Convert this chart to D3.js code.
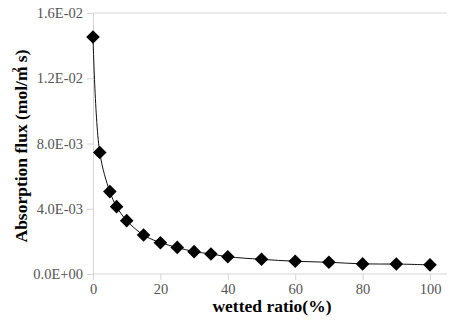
<!DOCTYPE html>
<html>
<head>
<meta charset="utf-8">
<script src="https://cdn.jsdelivr.net/npm/d3@7"></script>
<style>
  body { margin: 0; background: #fff; }
  svg { display: block; }
  text { font-family: "Liberation Serif", "Times New Roman", Times, "DejaVu Serif", serif; }
</style>
</head>
<body>
<div id="chart"></div>
<script>
// wetted ratio (%) and absorption flux (mol/m2 s)
const wettedRatio = [0, 2, 5, 7, 10, 15, 20, 25, 30, 35, 40, 50, 60, 70, 80, 90, 100];
const absorptionFlux = [0.01453, 0.00745, 0.00505, 0.00413, 0.00327, 0.00239, 0.00192, 0.00163,
  0.00137, 0.00123, 0.00106, 0.00090, 0.00078, 0.00072, 0.00062, 0.00061, 0.00056];
const xTicks = [0, 20, 40, 60, 80, 100];
const yTicks = [0, 0.004, 0.008, 0.012, 0.016];
const yTickLabels = ['0.0E+00', '4.0E-03', '8.0E-03', '1.2E-02', '1.6E-02'];

const width = 455, height = 325;
const margin = { top: 13, right: 8, bottom: 51, left: 93 };

const svg = d3.select('#chart').append('svg')
  .attr('width', width)
  .attr('height', height);

const x = d3.scaleLinear().domain([0, 100]).range([margin.left, 430]);
const y = d3.scaleLinear().domain([0, 0.016]).range([height - margin.bottom, margin.top]);

const axisColor = '#d4d4d4';
const labelColor = '#555';

// top border of plot
svg.append('line')
  .attr('x1', margin.left).attr('x2', width - margin.right)
  .attr('y1', y(0.016)).attr('y2', y(0.016))
  .attr('stroke', axisColor);

// x axis
const gx = svg.append('g')
  .attr('transform', 'translate(0,' + y(0) + ')')
  .call(d3.axisBottom(x).tickValues(xTicks).tickSize(6).tickPadding(4).tickSizeOuter(0));
gx.select('.domain').attr('d', 'M' + margin.left + ',0H' + (width - margin.right));

// y axis
const gy = svg.append('g')
  .attr('transform', 'translate(' + margin.left + ',0)')
  .call(d3.axisLeft(y).tickValues(yTicks).tickFormat((d, i) => yTickLabels[i])
    .tickSize(6).tickPadding(4).tickSizeOuter(0));

svg.selectAll('.domain, .tick line').attr('stroke', axisColor);
svg.selectAll('g').attr('font-family', null);
svg.selectAll('.tick text')
  .attr('fill', labelColor)
  .style('font-size', '14.5px');

// smooth line
const line = d3.line()
  .x((d, i) => x(wettedRatio[i]))
  .y(d => y(d))
  .curve(d3.curveCatmullRom.alpha(0.5));

svg.append('path')
  .datum(absorptionFlux)
  .attr('d', line)
  .attr('fill', 'none')
  .attr('stroke', '#111')
  .attr('stroke-width', 1);

// diamond markers
const r = 6.8;
svg.selectAll('.pt')
  .data(absorptionFlux)
  .enter().append('path')
  .attr('class', 'pt')
  .attr('transform', (d, i) => 'translate(' + x(wettedRatio[i]) + ',' + y(d) + ')')
  .attr('d', 'M0,' + (-r) + 'L' + r + ',0L0,' + r + 'L' + (-r) + ',0Z')
  .attr('fill', '#000');

// axis titles
svg.append('text')
  .attr('x', 272)
  .attr('y', 312)
  .attr('text-anchor', 'middle')
  .style('font-size', '17.5px')
  .style('font-weight', 'bold')
  .text('wetted ratio(%)');

const yt = svg.append('text')
  .attr('transform', 'translate(27,' + 146 + ') rotate(-90)')
  .attr('text-anchor', 'middle')
  .style('font-size', '17.5px')
  .style('font-weight', 'bold');
yt.append('tspan').text('Absorption flux (mol/m');
yt.append('tspan').attr('dx', -6).attr('dy', -8).style('font-size', '10px').text('2');
yt.append('tspan').attr('dx', 1).attr('dy', 8).text(' s)');
</script>
</body>
</html>
